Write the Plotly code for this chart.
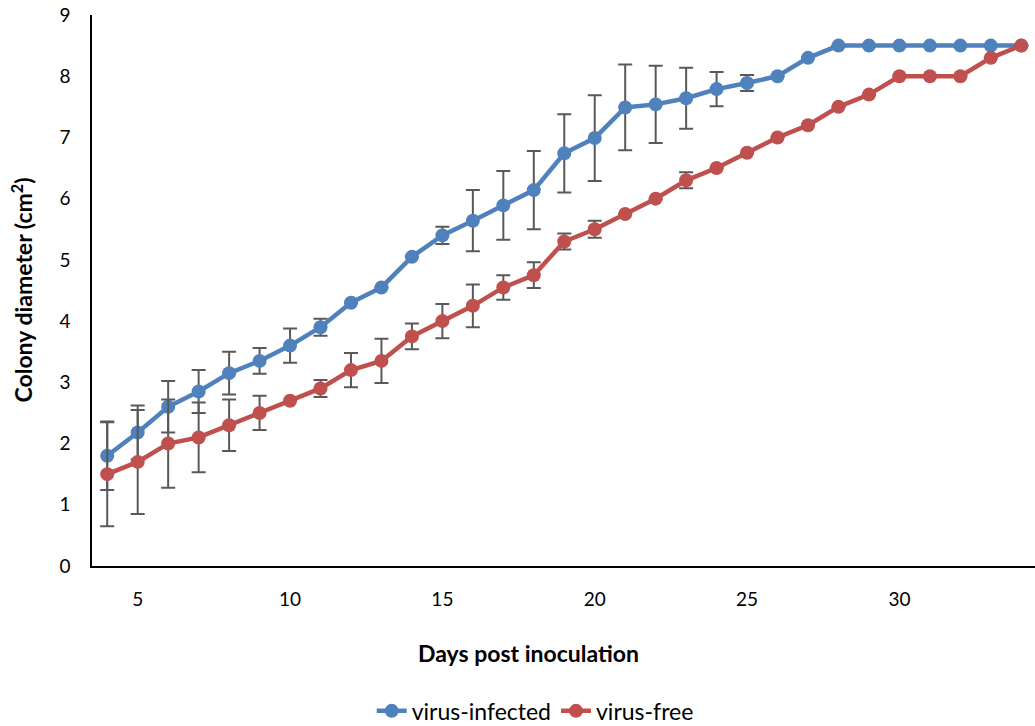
import plotly.graph_objects as go

days = list(range(4, 35))
infected = [1.8, 2.18, 2.6, 2.85, 3.15, 3.35, 3.6, 3.9, 4.3, 4.55, 5.05, 5.4, 5.64, 5.89, 6.14,
            6.74, 6.99, 7.49, 7.54, 7.64, 7.79, 7.89, 8.0, 8.3, 8.5, 8.5, 8.5, 8.5, 8.5, 8.5, 8.5]
infected_err = [0.56, 0.44, 0.42, 0.35, 0.35, 0.21, 0.28, 0.14, 0, 0, 0, 0.14, 0.5, 0.56, 0.64,
                0.64, 0.7, 0.7, 0.63, 0.5, 0.28, 0.13, 0, 0, 0, 0, 0, 0, 0, 0, 0]
free = [1.5, 1.7, 2.0, 2.1, 2.3, 2.5, 2.7, 2.9, 3.2, 3.35, 3.75, 4.0, 4.25, 4.55, 4.75,
        5.3, 5.5, 5.75, 6.0, 6.3, 6.5, 6.75, 7.0, 7.2, 7.5, 7.7, 8.0, 8.0, 8.0, 8.3, 8.5]
free_err = [0.85, 0.85, 0.72, 0.57, 0.42, 0.28, 0, 0.14, 0.28, 0.36, 0.21, 0.28, 0.35, 0.2, 0.21,
            0.13, 0.14, 0, 0, 0.13, 0, 0, 0, 0, 0, 0, 0, 0, 0, 0, 0]

FONT = "Lato, 'Open Sans', sans-serif"
ERR = dict(type="data", visible=True, color="#595959", thickness=2, width=7)

fig = go.Figure()
fig.add_trace(go.Scatter(
    x=days, y=infected, name="virus-infected", mode="lines+markers",
    line=dict(color="#4F81BD", width=4.5), marker=dict(color="#4F81BD", size=14),
    error_y=dict(array=infected_err, **ERR)))
fig.add_trace(go.Scatter(
    x=days, y=free, name="virus-free", mode="lines+markers",
    line=dict(color="#C0504D", width=4.5), marker=dict(color="#C0504D", size=14),
    error_y=dict(array=free_err, **ERR)))

fig.update_layout(
    width=1035, height=726,
    margin=dict(l=92, r=0, t=15, b=160, autoexpand=False),
    plot_bgcolor="white", paper_bgcolor="white",
    font=dict(family=FONT, size=19, color="#000000"),
    showlegend=True,
    legend=dict(orientation="h", x=0.47, xanchor="center", xref="paper",
                y=-0.263, yref="paper", yanchor="middle",
                font=dict(size=23), bgcolor="rgba(0,0,0,0)"),
    xaxis=dict(range=[3.5, 34.45], tickvals=[5, 10, 15, 20, 25, 30],
               showgrid=False, zeroline=False, showline=True, linecolor="#000000", linewidth=1.5,
               ticks="", ticklabelstandoff=15, tickfont=dict(size=19)),
    yaxis=dict(range=[0, 9], dtick=1, showgrid=False, zeroline=False, showline=True,
               linecolor="#000000", linewidth=1.5, ticks="", ticklabelstandoff=16,
               tickfont=dict(size=19)),
    annotations=[
        dict(text="<b>Days post inoculation</b>", xref="paper", yref="paper", x=0.463, y=0,
             yshift=-87, showarrow=False, font=dict(size=23), xanchor="center", yanchor="middle"),
        dict(text="<b>Colony diameter (cm<sup>2</sup>)</b>", xref="paper", yref="paper", x=0, y=0.5,
             xshift=-70, textangle=-90, showarrow=False, font=dict(size=23),
             xanchor="center", yanchor="middle"),
    ],
)

fig.write_html("out.html", config={"displayModeBar": False},
               post_script="document.body.style.margin='0';document.body.style.overflow='hidden';")
